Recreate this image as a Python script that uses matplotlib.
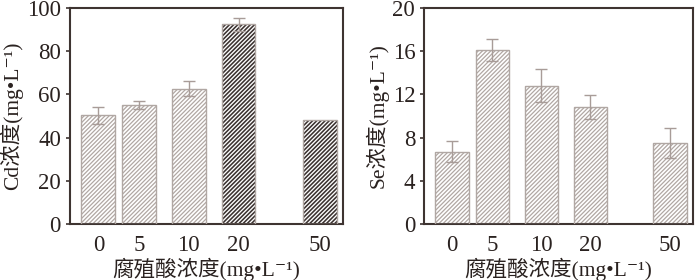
import numpy as np
import matplotlib
matplotlib.use("Agg")
import matplotlib.pyplot as plt

plt.rcParams['font.family'] = ['Liberation Serif', 'Noto Sans CJK SC', 'DejaVu Serif']
plt.rcParams['hatch.linewidth'] = 0.9

# data
ha_conc = ['0', '5', '10', '20', '50']
cd_mean = [50.3, 55.0, 62.6, 92.4, 48.3]
cd_err = [4.0, 2.0, 3.6, 3.0, 0.0]
se_mean = [6.7, 16.1, 12.8, 10.85, 7.5]
se_err = [1.0, 1.0, 1.5, 1.1, 1.4]
cd_dark = [False, False, False, True, True]

light = '#b0a7a3'
dark = '#3b3230'
frame = '#3e3431'
err_col = '#a89c98'
txt = '#2a2220'

pos = np.array([0, 0.82, 1.82, 2.82, 4.45])
w = 0.68

fig = plt.figure(figsize=(7, 2.8), dpi=100)
ax1 = fig.add_axes([0.1, 0.2, 0.39, 0.772])
ax2 = fig.add_axes([0.606, 0.2, 0.384, 0.772])


def draw_panel(ax, means, errs, darks, ylim, yticks, ylabel):
    for x, m, e, d in zip(pos, means, errs, darks):
        col = dark if d else light
        with plt.rc_context({'hatch.linewidth': 1.15 if d else 0.9}):
            ax.bar(x, m, w, color='white', edgecolor=col, hatch='////////',
                   linewidth=0, zorder=2)
        ax.bar(x, m, w, fill=False, edgecolor=light, linewidth=1.0, zorder=3)
        if e > 0:
            ax.errorbar(x, m, yerr=e, fmt='none', ecolor=err_col, elinewidth=1.0,
                        capsize=4, capthick=1.0, zorder=4)
    ax.set_xlim(-0.57, 4.92)
    ax.set_ylim(*ylim)
    ax.set_yticks(yticks)
    ax.set_xticks(pos)
    ax.set_xticklabels(ha_conc)
    ax.tick_params(axis='x', length=0, pad=8, labelsize=16.5, colors=txt)
    ax.tick_params(axis='y', direction='out', length=3, width=1.2, labelsize=16.5,
                   colors=txt, color=frame)
    for s in ax.spines.values():
        s.set_color(frame)
        s.set_linewidth(1.5)
    ax.set_ylabel(ylabel, fontsize=15.5, color=txt, labelpad=3)
    ax.set_xlabel('腐殖酸浓度(mg•L⁻¹)', fontsize=15.5, color=txt, labelpad=1)


draw_panel(ax1, cd_mean, cd_err, cd_dark, (0, 100), [0, 20, 40, 60, 80, 100], 'Cd浓度(mg•L⁻¹)')
draw_panel(ax2, se_mean, se_err, [False] * 5, (0, 20), [0, 4, 8, 12, 16, 20], 'Se浓度(mg•L⁻¹)')

fig.savefig('out.png', dpi=100)
